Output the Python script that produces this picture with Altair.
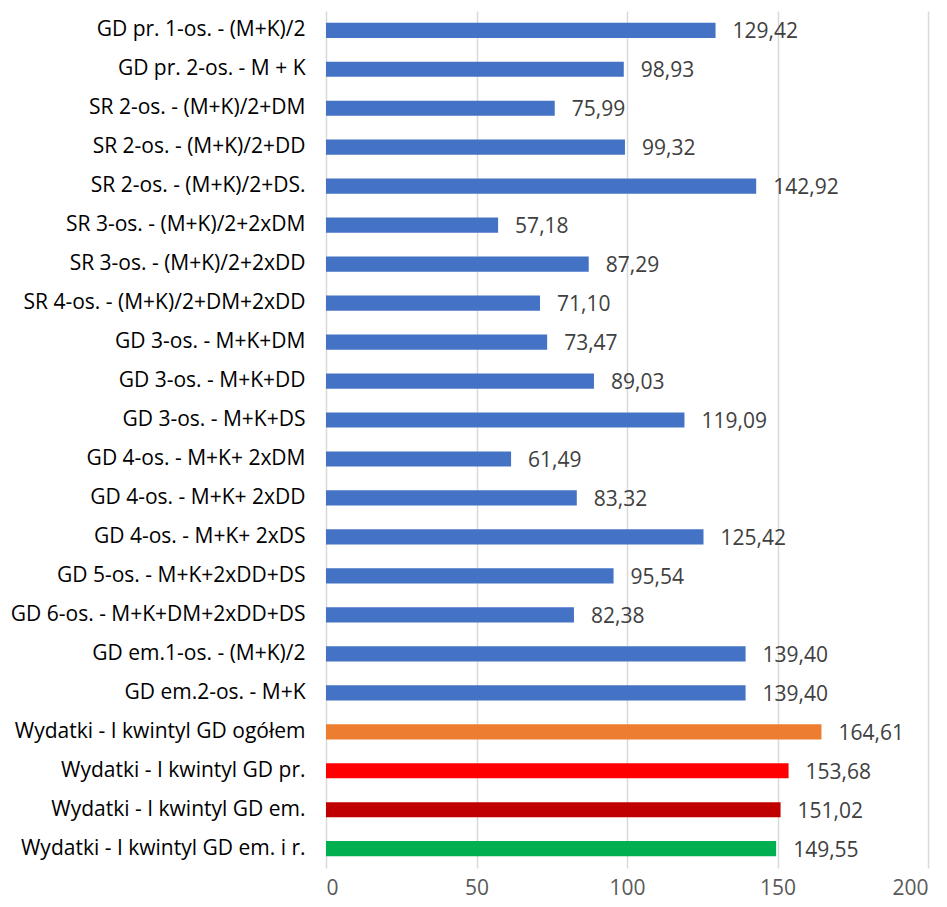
import altair as alt
import pandas as pd

kategorie = [
    "GD pr. 1-os. - (M+K)/2",
    "GD pr. 2-os. - M + K",
    "SR 2-os. - (M+K)/2+DM",
    "SR 2-os. - (M+K)/2+DD",
    "SR 2-os. - (M+K)/2+DS.",
    "SR 3-os. - (M+K)/2+2xDM",
    "SR 3-os. - (M+K)/2+2xDD",
    "SR 4-os. - (M+K)/2+DM+2xDD",
    "GD 3-os. - M+K+DM",
    "GD 3-os. - M+K+DD",
    "GD 3-os. - M+K+DS",
    "GD 4-os. - M+K+ 2xDM",
    "GD 4-os. - M+K+ 2xDD",
    "GD 4-os. - M+K+ 2xDS",
    "GD 5-os. - M+K+2xDD+DS",
    "GD 6-os. - M+K+DM+2xDD+DS",
    "GD em.1-os. - (M+K)/2",
    "GD em.2-os. - M+K",
    "Wydatki - I kwintyl GD ogółem",
    "Wydatki - I kwintyl GD pr.",
    "Wydatki - I kwintyl GD em.",
    "Wydatki - I kwintyl GD em. i r.",
]
wartosci = [129.42, 98.93, 75.99, 99.32, 142.92, 57.18, 87.29, 71.10, 73.47, 89.03,
            119.09, 61.49, 83.32, 125.42, 95.54, 82.38, 139.40, 139.40,
            164.61, 153.68, 151.02, 149.55]
grupy = ["minimum"] * 18 + ["ogółem", "pr.", "em.", "em. i r."]

df = pd.DataFrame({
    "kategoria": kategorie,
    "wartosc": wartosci,
    "grupa": grupy,
    "etykieta": [f"{v:.2f}".replace(".", ",") for v in wartosci],
})

FONT = "Open Sans"

y = alt.Y("kategoria:N", sort=kategorie, title=None,
          scale=alt.Scale(paddingInner=0.61, paddingOuter=0.3),
          axis=alt.Axis(ticks=False, domain=False, labelFontSize=21, labelColor="#000000",
                        labelFont=FONT, labelPadding=21, labelLimit=400))

base = alt.Chart(df)

bars = base.mark_bar().encode(
    x=alt.X("wartosc:Q", title=None,
            scale=alt.Scale(domain=[0, 200], nice=False),
            axis=alt.Axis(values=[0, 50, 100, 150, 200], ticks=False, domain=False,
                          gridColor="#D9D9D9", gridWidth=1.5, labelFontSize=21,
                          labelColor="#595959", labelFont=FONT, labelPadding=9)),
    y=y,
    color=alt.Color("grupa:N", legend=None,
                    scale=alt.Scale(domain=["minimum", "ogółem", "pr.", "em.", "em. i r."],
                                    range=["#4472C4", "#ED7D31", "#FF0000", "#C00000", "#00B050"])),
)

labels = base.mark_text(align="left", baseline="middle", dx=17, dy=2,
                        fontSize=21, font=FONT, color="#404040").encode(
    x="wartosc:Q",
    y=alt.Y("kategoria:N", sort=kategorie),
    text="etykieta:N",
)

chart = (bars + labels).properties(
    width=602, height=857,
    padding={"left": 318, "top": 3, "right": 10, "bottom": 31},
    autosize=alt.AutoSizeParams(type="none"),
).configure_view(stroke=None)

chart.save("out.html", embed_options={"renderer": "svg", "actions": False})
